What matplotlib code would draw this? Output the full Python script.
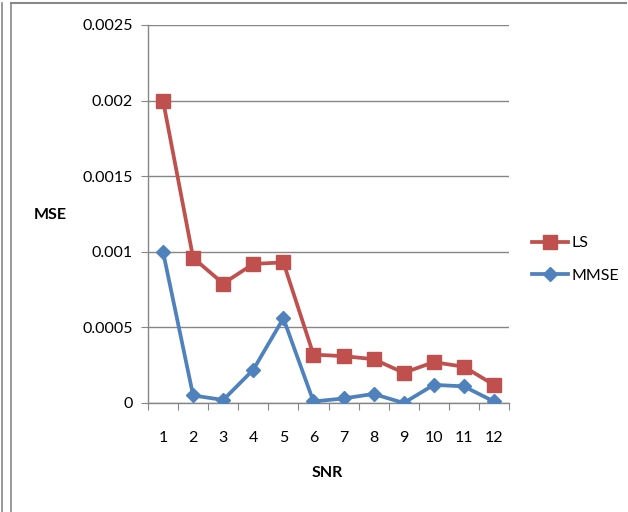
import matplotlib
matplotlib.use("Agg")
import matplotlib.pyplot as plt
from matplotlib.lines import Line2D
from matplotlib.ticker import FixedLocator, NullFormatter, FuncFormatter

plt.rcParams['font.family'] = ['Lato', 'DejaVu Sans']

snr = list(range(1, 13))
ls_mse = [0.0020, 0.00096, 0.00079, 0.00092, 0.00093, 0.00032,
          0.00031, 0.00029, 0.00020, 0.00027, 0.00024, 0.00012]
mmse_mse = [0.0010, 0.00005, 0.00002, 0.00022, 0.00056, 0.00001,
            0.00003, 0.00006, 0.00000, 0.00012, 0.00011, 0.00001]
y_ticks = [0, 0.0005, 0.001, 0.0015, 0.002, 0.0025]
y_tick_labels = ['0', '0.0005', '0.001', '0.0015', '0.002', '0.0025']

W, H = 628, 512
fig = plt.figure(figsize=(W / 100, H / 100), dpi=100)

# outer frame lines
fig.add_artist(Line2D([2 / W, 2 / W], [0, 1 - 3 / H], color='#888888', lw=1.2))
fig.add_artist(Line2D([11 / W, 11 / W], [0, 1 - 3 / H], color='#888888', lw=1.2))
fig.add_artist(Line2D([11 / W, 626 / W], [1 - 3 / H, 1 - 3 / H], color='#888888', lw=1.5))

ax = fig.add_axes([148 / W, 1 - 403 / H, (509 - 148) / W, (403 - 25) / H])

xpos = [i - 0.5 for i in snr]
ax.plot(xpos, ls_mse, color='#C0504D', lw=2.7, marker='s', markersize=9.5,
        label='LS', zorder=3)
ax.plot(xpos, mmse_mse, color='#4F81BD', lw=2.7, marker='D', markersize=7.5,
        label='MMSE', zorder=3)

ax.set_xlim(0, 12)
ax.set_ylim(0, 0.0025)
ax.set_yticks(y_ticks)
ax.set_yticklabels(y_tick_labels)
ax.yaxis.grid(True, color='#868686', lw=1.0)
ax.set_axisbelow(True)

ax.xaxis.set_major_locator(FixedLocator(list(range(0, 13))))
ax.xaxis.set_major_formatter(NullFormatter())
ax.xaxis.set_minor_locator(FixedLocator(xpos))
ax.xaxis.set_minor_formatter(FuncFormatter(lambda v, p: str(int(v + 0.5))))
ax.tick_params(axis='x', which='major', length=5, color='#868686', direction='out')
ax.tick_params(axis='x', which='minor', length=0, pad=20, labelsize=11.5)
ax.tick_params(axis='y', length=5, color='#868686', pad=6, labelsize=11.5)

for side in ['top', 'right']:
    ax.spines[side].set_visible(False)
for side in ['left', 'bottom']:
    ax.spines[side].set_color('#868686')
    ax.spines[side].set_linewidth(1.0)

fig.text(50 / W, 1 - 215 / H, 'MSE', fontsize=11.5, fontweight='bold',
         ha='center', va='center')
fig.text(327 / W, 1 - 473 / H, 'SNR', fontsize=11.5, fontweight='bold',
         ha='center', va='center')

fig.legend(loc='center left', bbox_to_anchor=(532 / W, 1 - 259.5 / H),
           frameon=False, fontsize=11.5, handlelength=2.25, handletextpad=0.2,
           labelspacing=1.15, borderaxespad=0, borderpad=0)

fig.savefig('out.png', dpi=100)
